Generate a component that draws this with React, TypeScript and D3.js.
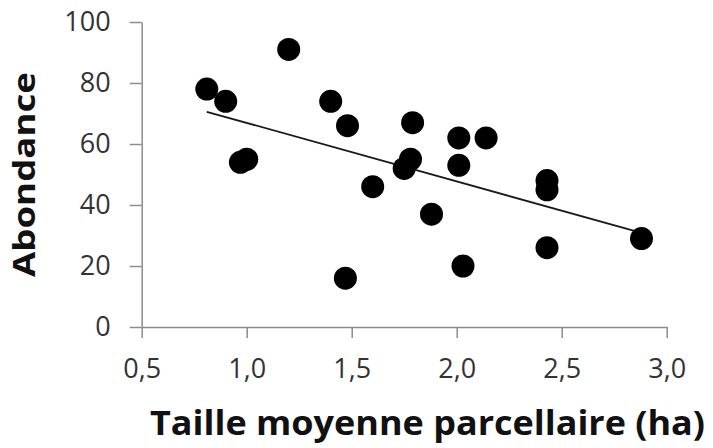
import React, { useEffect, useRef } from "react";
import * as d3 from "d3";

// taille moyenne parcellaire (ha) et abondance
const tailles = [0.81, 0.90, 1.20, 0.97, 1.00, 1.40, 1.48, 1.47, 1.60, 1.79, 1.78, 1.75, 2.01, 2.14, 2.01, 2.43, 2.43, 1.88, 2.03, 2.43, 2.88];
const abondances = [78, 74, 91, 54, 55, 74, 66, 16, 46, 67, 55, 52, 62, 62, 53, 48, 45, 37, 20, 26, 29];
const xTicks = [0.5, 1.0, 1.5, 2.0, 2.5, 3.0];
const yTicks = [0, 20, 40, 60, 80, 100];
const xTitle = "Taille moyenne parcellaire (ha)";
const yTitle = "Abondance";

const W = 713;
const H = 448;

function App() {
  const svgRef = useRef<SVGSVGElement>(null);

  useEffect(() => {
    const svg = d3.select(svgRef.current);
    svg.selectAll("*").remove();

    const x = d3.scaleLinear().domain([0.5, 3.0]).range([141.7, 666.7]);
    const y = d3.scaleLinear().domain([0, 100]).range([327, 22]);

    const font = "'Open Sans', sans-serif";
    const axisColor = "#8c8c8c";

    // axe Y
    const gy = svg.append("g")
      .attr("transform", `translate(${x(0.5)},0)`)
      .call(d3.axisLeft(y).tickValues(yTicks).tickSize(12).tickSizeOuter(0).tickPadding(19));
    // axe X
    const gx = svg.append("g")
      .attr("transform", `translate(0,${y(0)})`)
      .call(d3.axisBottom(x).tickValues(xTicks).tickSize(11).tickSizeOuter(0).tickPadding(21)
        .tickFormat(d => d3.format(".1f")(d as number).replace(".", ",")));

    [gx, gy].forEach(g => {
      g.select(".domain").attr("stroke", axisColor).attr("stroke-width", 1.5);
      g.selectAll(".tick line").attr("stroke", axisColor).attr("stroke-width", 1.5);
      g.selectAll(".tick text")
        .attr("fill", "#333")
        .style("font-family", font)
        .style("font-size", "27px");
    });

    // droite de tendance (moindres carrés)
    const pts = tailles.map((t, i) => [t, abondances[i]] as [number, number]);
    const mx = d3.mean(tailles)!;
    const my = d3.mean(abondances)!;
    const slope = d3.sum(pts, p => (p[0] - mx) * (p[1] - my)) / d3.sum(pts, p => (p[0] - mx) ** 2);
    const inter = my - slope * mx;
    const [x0, x1] = d3.extent(tailles) as [number, number];
    const line = d3.line<number>().x(d => x(d)).y(d => y(inter + slope * d));
    svg.append("path")
      .attr("d", line([x0, x1]))
      .attr("fill", "none")
      .attr("stroke", "#1a1a1a")
      .attr("stroke-width", 1.8);

    // points
    svg.append("g")
      .selectAll("circle")
      .data(pts)
      .enter()
      .append("circle")
      .attr("cx", d => x(d[0]))
      .attr("cy", d => y(d[1]))
      .attr("r", 11.5)
      .attr("fill", "#000");

    // titres
    svg.append("text")
      .attr("x", 150)
      .attr("y", 435)
      .attr("textLength", 555)
      .attr("lengthAdjust", "spacingAndGlyphs")
      .style("font-family", font)
      .style("font-weight", 700)
      .style("font-size", "34px")
      .attr("fill", "#111")
      .text(xTitle);

    svg.append("text")
      .attr("transform", "translate(35,277) rotate(-90)")
      .attr("textLength", 205)
      .attr("lengthAdjust", "spacingAndGlyphs")
      .style("font-family", font)
      .style("font-weight", 700)
      .style("font-size", "31px")
      .attr("fill", "#111")
      .text(yTitle);
  }, []);

  return (
    <svg
      ref={svgRef}
      width={W}
      height={H}
      style={{ position: "absolute", left: 0, top: 0, background: "#fff" }}
    />
  );
}

export default App;
